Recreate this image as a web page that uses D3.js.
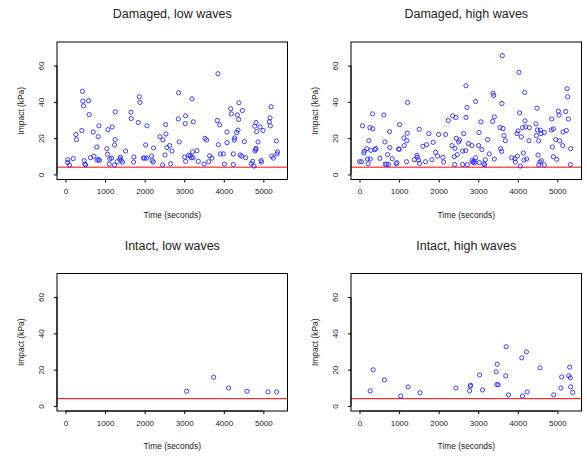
<!DOCTYPE html>
<html>
<head>
<meta charset="utf-8">
<script src="https://cdn.jsdelivr.net/npm/d3@7"></script>
<style>
  body { margin: 0; background: #fff; }
  svg text { font-family: "Liberation Sans", Arial, Helvetica, sans-serif; fill: #222; }
</style>
</head>
<body>
<script>
// panel titles
var titles = ["Damaged, low waves", "Damaged, high waves", "Intact, low waves", "Intact, high waves"];

// Damaged, low waves
var damagedLowTime = [59, 51, 101, 194, 261, 278, 413, 430, 438, 455, 472, 489, 506, 582, 599, 632, 700, 717, 793, 801,
  835, 860, 826, 843, 1046, 1062, 1071, 1105, 1121, 1164, 1180, 1239, 1256, 1256, 1239, 1307, 1374, 1391, 1408, 1442,
  1518, 1653, 1661, 1728, 1720, 1838, 1863, 1880, 1965, 1998, 2049, 2024, 2057, 2175, 2192, 2218, 2226, 2386, 2454, 2462,
  2513, 2530, 2538, 2563, 2631, 2656, 2690, 2850, 2858, 2875, 3010, 3035, 3027, 3035, 3111, 3153, 3179, 3196, 3212, 3221,
  3229, 3322, 3356, 3499, 3524, 3567, 3617, 3642, 3702, 3836, 3853, 3862, 3895, 3912, 3988, 4014, 4081, 4081, 4174, 4191,
  4241, 4241, 4275, 4266, 4325, 4342, 4359, 4376, 4384, 4410, 4452, 4469, 4519, 4553, 4696, 4730, 4764, 4781, 4789, 4806,
  4815, 4815, 4831, 4865, 4916, 4941, 4949, 4992, 5152, 5169, 5177, 5194, 5211, 5253, 5329, 5354, 5346];
var damagedLowImpact = [8.1, 6.5, 5.2, 8.7, 22.0, 19.2, 24.2, 45.8, 40.4, 37.8, 7.6, 5.7, 5.2, 40.6, 33.0, 9.2, 23.4, 10.0, 15.1, 7.9,
  8.3, 7.7, 20.8, 26.8, 14.2, 11.1, 24.7, 5.7, 8.5, 9.0, 26.2, 16.2, 19.2, 34.5, 5.2, 7.0, 8.5, 9.4, 7.7, 6.8,
  12.9, 34.3, 30.8, 9.6, 6.8, 28.6, 42.8, 39.7, 9.0, 9.0, 9.0, 16.2, 26.8, 10.1, 7.6, 6.8, 14.6, 20.8, 5.2, 19.0,
  10.7, 27.5, 22.3, 14.8, 15.9, 5.9, 12.9, 30.6, 45.0, 17.9, 9.6, 7.2, 28.0, 32.3, 10.5, 10.3, 9.2, 41.7, 12.4, 9.2,
  29.0, 13.1, 7.2, 5.7, 19.9, 19.0, 7.0, 10.3, 9.0, 29.7, 55.5, 16.4, 27.3, 11.3, 11.3, 5.7, 17.5, 23.4, 36.2, 33.4,
  5.5, 11.3, 20.1, 19.0, 23.1, 32.8, 24.4, 30.3, 39.5, 10.7, 10.1, 35.2, 18.1, 9.2, 5.9, 7.2, 4.6, 26.6, 12.9, 13.8,
  14.4, 28.6, 23.6, 17.9, 26.2, 7.6, 6.8, 24.2, 29.0, 31.2, 26.8, 37.3, 10.1, 9.0, 18.5, 12.4, 11.3];

// Damaged, high waves
var damagedHighTime = [0, 51, 76, 110, 126, 185, 202, 219, 236, 261, 270, 287, 329, 337, 388, 413, 514, 616, 641, 649,
  683, 708, 734, 759, 767, 826, 927, 944, 987, 1003, 1012, 1121, 1130, 1189, 1197, 1206, 1214, 1383, 1450, 1459,
  1492, 1509, 1518, 1602, 1669, 1695, 1754, 1830, 1863, 1922, 1973, 1998, 2108, 2125, 2175, 2243, 2336, 2352, 2395, 2403,
  2411, 2437, 2445, 2470, 2504, 2530, 2605, 2605, 2631, 2681, 2690, 2690, 2715, 2723, 2757, 2841, 2841, 2867, 2892, 2909,
  2934, 2934, 3010, 3019, 3027, 3069, 3094, 3145, 3162, 3179, 3238, 3280, 3364, 3373, 3390, 3406, 3406, 3550, 3567, 3592,
  3600, 3609, 3626, 3651, 3685, 3845, 3929, 3938, 3980, 3988, 4005, 4030, 4047, 4064, 4089, 4123, 4140, 4157, 4174, 4182,
  4199, 4224, 4292, 4283, 4460, 4486, 4469, 4494, 4511, 4528, 4528, 4570, 4562, 4587, 4595, 4671, 4671, 4848, 4857, 4874,
  4899, 4899, 4958, 4983, 5025, 5042, 5059, 5135, 5143, 5211, 5228, 5245, 5261, 5278, 5329, 5337];
var damagedHighImpact = [7.0, 7.0, 26.8, 11.8, 12.9, 14.2, 8.5, 5.9, 18.6, 25.8, 8.5, 13.3, 33.4, 25.1, 13.7, 14.2, 8.9, 32.8, 17.9, 5.7,
  5.5, 10.9, 5.5, 23.6, 14.8, 8.7, 5.9, 6.5, 14.0, 13.8, 27.5, 20.1, 15.9, 7.0, 18.6, 22.7, 39.7, 8.1, 10.5, 9.4,
  7.9, 24.9, 6.1, 15.5, 7.0, 16.4, 22.5, 8.1, 17.7, 12.2, 10.1, 22.0, 9.4, 6.8, 22.0, 29.7, 15.9, 32.3, 9.8, 5.5,
  14.4, 31.4, 19.9, 10.9, 17.9, 19.0, 12.9, 5.5, 22.5, 13.1, 48.9, 31.4, 36.9, 5.4, 17.0, 15.9, 7.6, 6.6, 7.4, 6.5,
  9.2, 40.2, 15.9, 23.1, 6.5, 29.0, 13.7, 5.9, 5.2, 8.1, 19.2, 11.3, 29.2, 44.8, 43.5, 31.7, 8.5, 25.8, 14.2, 12.7,
  39.1, 65.5, 25.3, 21.4, 18.6, 9.2, 8.7, 6.8, 22.5, 10.1, 24.0, 56.3, 33.9, 4.6, 20.7, 25.8, 11.8, 7.9, 45.2, 29.5,
  26.2, 8.5, 25.8, 18.6, 27.9, 36.5, 21.4, 24.5, 10.7, 18.5, 5.2, 24.4, 6.8, 22.5, 7.6, 23.1, 5.2, 24.5, 30.6, 15.1,
  25.1, 9.8, 19.2, 8.3, 34.9, 32.7, 18.5, 15.9, 23.4, 34.7, 24.2, 47.2, 42.8, 30.6, 5.4, 14.2];

// Intact, low waves
var intactLowTime = [3061, 3744, 4123, 4587, 5118, 5337];
var intactLowImpact = [8.1, 15.8, 9.9, 8.1, 7.7, 7.7];

// Intact, high waves
var intactHighTime = [269, 345, 630, 1042, 1227, 1529, 2437, 2782, 2798, 2807, 3034, 3109, 3454, 3479, 3471, 3504,
  3706, 3697, 3765, 4101, 4118, 4218, 4235, 4563, 4908, 5092, 5109, 5286, 5311, 5328, 5336, 5387];
var intactHighImpact = [8.3, 19.9, 14.4, 5.5, 10.5, 7.2, 9.9, 8.3, 10.9, 11.4, 17.1, 8.8, 18.8, 23.0, 11.8, 11.6,
  32.6, 16.6, 6.1, 26.5, 5.5, 29.8, 7.7, 21.0, 6.1, 9.9, 16.0, 16.6, 21.4, 15.5, 10.5, 7.4];

// ticks and threshold
var xTicks = [0, 1000, 2000, 3000, 4000, 5000];
var yTicks = [0, 20, 40, 60];
var threshold = 4;

var panels = [
  { title: titles[0], t: damagedLowTime, v: damagedLowImpact },
  { title: titles[1], t: damagedHighTime, v: damagedHighImpact },
  { title: titles[2], t: intactLowTime, v: intactLowImpact },
  { title: titles[3], t: intactHighTime, v: intactHighImpact }
];

var width = 587, height = 457;
var svg = d3.select("body").append("svg")
  .attr("width", width)
  .attr("height", height);

// plot region of each panel
var plotW = 230.5, plotH = 137.5;
var lefts = [57, 351];
var tops = [42, 273.5];

var xScale = d3.scaleLinear().domain([-215, 5610]).range([0, plotW]);
var yScale = d3.scaleLinear().domain([-2.8, 73]).range([plotH, 0]);

panels.forEach(function (p, i) {
  var left = lefts[i % 2], top = tops[Math.floor(i / 2)];
  var g = svg.append("g").attr("transform", "translate(" + left + "," + top + ")");

  // title
  g.append("text")
    .attr("x", plotW / 2)
    .attr("y", -24)
    .attr("text-anchor", "middle")
    .style("font-size", "12.5px")
    .text(p.title);

  // threshold line
  g.append("line")
    .attr("x1", 0).attr("x2", plotW)
    .attr("y1", yScale(threshold)).attr("y2", yScale(threshold))
    .attr("stroke", "red")
    .attr("stroke-width", 1);

  // points
  g.selectAll(".pt")
    .data(p.t.map(function (d, k) { return [d, p.v[k]]; }))
    .enter()
    .append("circle")
    .attr("class", "pt")
    .attr("cx", function (d) { return xScale(d[0]); })
    .attr("cy", function (d) { return yScale(d[1]); })
    .attr("r", 2.1)
    .attr("fill", "none")
    .attr("stroke", "#2a2aff")
    .attr("stroke-width", 0.9);

  // box
  g.append("rect")
    .attr("x", 0).attr("y", 0)
    .attr("width", plotW).attr("height", plotH)
    .attr("fill", "none")
    .attr("stroke", "#000")
    .attr("stroke-width", 1);

  // x axis
  var xAxis = d3.axisBottom(xScale).tickValues(xTicks).tickSize(3).tickPadding(6)
    .tickFormat(d3.format("d"));
  var gx = g.append("g")
    .attr("transform", "translate(0," + plotH + ")")
    .call(xAxis);
  gx.select(".domain").attr("d", "M" + xScale(xTicks[0]) + ",0H" + xScale(xTicks[xTicks.length - 1]));
  gx.selectAll("text").style("font-size", "8px").attr("fill", "#222");

  // y axis, labels rotated like R's default
  var yAxis = d3.axisLeft(yScale).tickValues(yTicks).tickSize(3).tickPadding(0);
  var gy = g.append("g").call(yAxis);
  gy.select(".domain").attr("d", "M0," + yScale(yTicks[0]) + "V" + yScale(yTicks[yTicks.length - 1]));
  gy.selectAll("text")
    .style("font-size", "8px")
    .attr("fill", "#222")
    .attr("text-anchor", "middle")
    .attr("dy", 0)
    .attr("x", 0)
    .attr("transform", "translate(-13,0) rotate(-90)");

  // axis titles
  g.append("text")
    .attr("x", plotW / 2)
    .attr("y", plotH + 38)
    .attr("text-anchor", "middle")
    .style("font-size", "8.4px")
    .text("Time (seconds)");

  g.append("text")
    .attr("transform", "translate(-33," + plotH / 2 + ") rotate(-90)")
    .attr("text-anchor", "middle")
    .style("font-size", "8.4px")
    .text("Impact (kPa)");
});
</script>
</body>
</html>
